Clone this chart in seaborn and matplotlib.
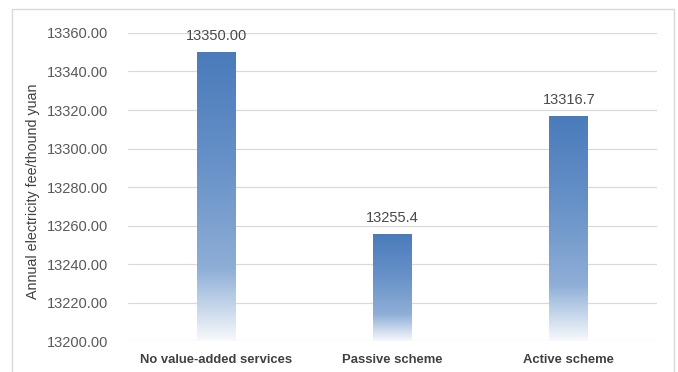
import numpy as np
import pandas as pd
import matplotlib
matplotlib.use("Agg")
import matplotlib.pyplot as plt
from matplotlib.colors import LinearSegmentedColormap
from matplotlib.patches import Rectangle
import seaborn as sns

# chart data
schemes = ["No value-added services", "Passive scheme", "Active scheme"]
fees = [13350.00, 13255.4, 13316.7]
fee_labels = ["13350.00", "13255.4", "13316.7"]
y_ticks = [13200, 13220, 13240, 13260, 13280, 13300, 13320, 13340, 13360]

df = pd.DataFrame({"scheme": schemes, "fee": fees})

sns.set_theme(style="white")
plt.rcParams["font.family"] = ["Liberation Sans", "DejaVu Sans"]

fig = plt.figure(figsize=(6.78, 3.72), dpi=100)
ax = fig.add_axes([0.1888, 0.0833, 0.969 - 0.1888, 0.9113 - 0.0833])

sns.barplot(data=df, x="scheme", y="fee", ax=ax, width=0.22, color="#4f80bd", zorder=2)

ymin, ymax = y_ticks[0], y_ticks[-1]
ax.set_ylim(ymin, ymax)
xlim = ax.get_xlim()

# gradient fill: dark blue at top, fading to white at the bottom
grad_cmap = LinearSegmentedColormap.from_list(
    "fade", [(0.0, "#f7f9fc"), (0.25, "#8eaed6"), (0.6, "#6892c8"), (1.0, "#4a7bbb")])
grad = np.linspace(0, 1, 256).reshape(-1, 1)
for p in ax.patches:
    x0 = p.get_x()
    w = p.get_width()
    top = p.get_height()
    ax.imshow(grad, extent=[x0, x0 + w, ymin, top], origin="lower",
              aspect="auto", cmap=grad_cmap, zorder=2)
    p.set_facecolor("none")
    p.set_edgecolor("none")

ax.set_xlim(xlim)
ax.set_ylim(ymin, ymax)

# value labels
ax.bar_label(ax.containers[0], labels=fee_labels, padding=7,
             fontsize=10.5, color="#4a4a4a")

ax.set_yticks(y_ticks)
ax.set_yticklabels([f"{v:.2f}" for v in y_ticks])
ax.tick_params(axis="y", labelsize=10.5, labelcolor="#595959", length=0, pad=14)
ax.tick_params(axis="x", labelsize=9.4, labelcolor="#404040", length=0, pad=9)
for lbl in ax.get_xticklabels():
    lbl.set_fontweight("bold")

ax.grid(axis="y", color="#d9d9d9", linewidth=0.9, zorder=0)
ax.set_axisbelow(True)
for s in ax.spines.values():
    s.set_visible(False)

ax.set_xlabel("")
ax.set_ylabel("Annual electricity fee/thound yuan", fontsize=10.3, color="#404040", labelpad=7)
ax.yaxis.set_label_coords(-0.166, 0.487)

# outer chart border
fig.patches.append(Rectangle((12 / 678, -0.05), (674 - 12) / 678, 1 - 9 / 372 + 0.05,
                             transform=fig.transFigure, fill=False,
                             edgecolor="#d9d9d9", linewidth=1))

fig.savefig("out.png", dpi=100)
